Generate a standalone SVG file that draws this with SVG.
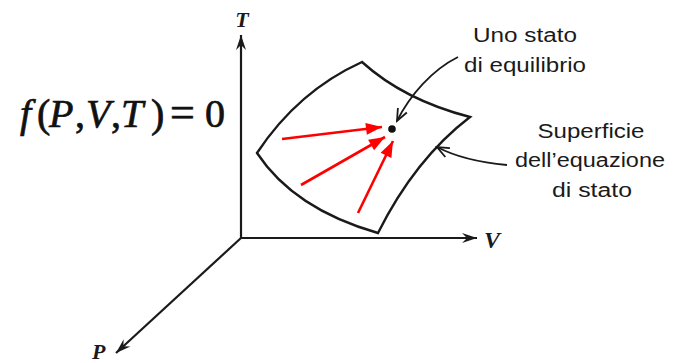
<svg xmlns="http://www.w3.org/2000/svg" width="675" height="363" viewBox="0 0 675 363">
<style>
.ax{fill:none;stroke:#1a1a1a;stroke-width:2.2}
.edge{fill:none;stroke:#1a1a1a;stroke-width:2.4;stroke-linejoin:miter}
.ptr{fill:none;stroke:#1a1a1a;stroke-width:1.8}
.red{fill:none;stroke:#ff0000;stroke-width:2.6}
.lbl{font-family:"Liberation Sans",Arial,sans-serif;font-size:20px;fill:#1a1a1a;text-anchor:middle}
.axl{font-family:"Liberation Serif","Times New Roman",serif;font-weight:bold;font-style:italic;fill:#1a1a1a}
.math{font-family:"Liberation Serif","Times New Roman",serif;font-size:40px;fill:#111;stroke:#111;stroke-width:0.7}
.it{font-style:italic}
</style>
<defs>
<marker id="axh" viewBox="-16 -6 18 12" refX="0" refY="0" markerWidth="18" markerHeight="12" markerUnits="userSpaceOnUse" orient="auto">
<path d="M0,0 L-15,-5 L-10,0 L-15,5 Z" fill="#1a1a1a"/>
</marker>
<marker id="oph" viewBox="-14 -7 16 14" refX="0" refY="0" markerWidth="16" markerHeight="14" markerUnits="userSpaceOnUse" orient="auto">
<path d="M-12,-5 L0,0 L-12,5" fill="none" stroke="#1a1a1a" stroke-width="1.8"/>
</marker>
<marker id="rh" viewBox="-17 -7 18 14" refX="0" refY="0" markerWidth="18" markerHeight="14" markerUnits="userSpaceOnUse" orient="auto">
<path d="M0,0 L-16,-6 L-16,6 Z" fill="#ff0000"/>
</marker>
</defs>
<g id="axes">
<line class="ax" x1="241" y1="238" x2="241" y2="35" marker-end="url(#axh)"/>
<line class="ax" x1="240" y1="238" x2="477" y2="238" marker-end="url(#axh)"/>
<line class="ax" x1="241" y1="238" x2="116" y2="353" marker-end="url(#axh)"/>
<text class="axl" x="242" y="27" font-size="22" text-anchor="middle">T</text>
<text class="axl" x="484" y="248" font-size="24">V</text>
<text class="axl" x="92" y="359" font-size="22">P</text>
</g>
<g id="formula">
<text class="math" y="127"><tspan class="it" x="20">f</tspan><tspan x="37">(</tspan><tspan class="it" x="49">P</tspan><tspan x="75">,</tspan><tspan class="it" x="86">V</tspan><tspan x="111">,</tspan><tspan class="it" x="121">T</tspan><tspan x="151">)</tspan><tspan x="170" font-size="44">=</tspan><tspan x="205">0</tspan></text>
</g>
<g id="surface">
<path class="edge" d="M257,153 Q298,91 362,62 Q404,100 470,117 Q415,159 378,233 Q294,209 257,153 Z"/>
</g>
<g id="state-point">
<circle cx="392" cy="129" r="3.8" fill="#111"/>
</g>
<g id="label-state">
<text class="lbl" x="525" y="42" textLength="104" lengthAdjust="spacingAndGlyphs">Uno stato</text>
<text class="lbl" x="525" y="72" textLength="122" lengthAdjust="spacingAndGlyphs">di equilibrio</text>
</g>
<g id="label-surface">
<text class="lbl" x="591" y="138" textLength="107" lengthAdjust="spacingAndGlyphs">Superficie</text>
<text class="lbl" x="590" y="167" textLength="150" lengthAdjust="spacingAndGlyphs">dell’equazione</text>
<text class="lbl" x="592" y="197" textLength="80" lengthAdjust="spacingAndGlyphs">di stato</text>
</g>
<g id="connectors">
<path class="ptr" d="M458,57 C432,70 410,95 397,121" marker-end="url(#oph)"/>
<path class="ptr" d="M507,165 C485,163 458,158 437,147" marker-end="url(#oph)"/>
<line class="red" x1="282" y1="139" x2="382" y2="127" marker-end="url(#rh)"/>
<line class="red" x1="301" y1="185" x2="385" y2="137" marker-end="url(#rh)"/>
<line class="red" x1="358" y1="213" x2="393" y2="141" marker-end="url(#rh)"/>
</g>
</svg>
